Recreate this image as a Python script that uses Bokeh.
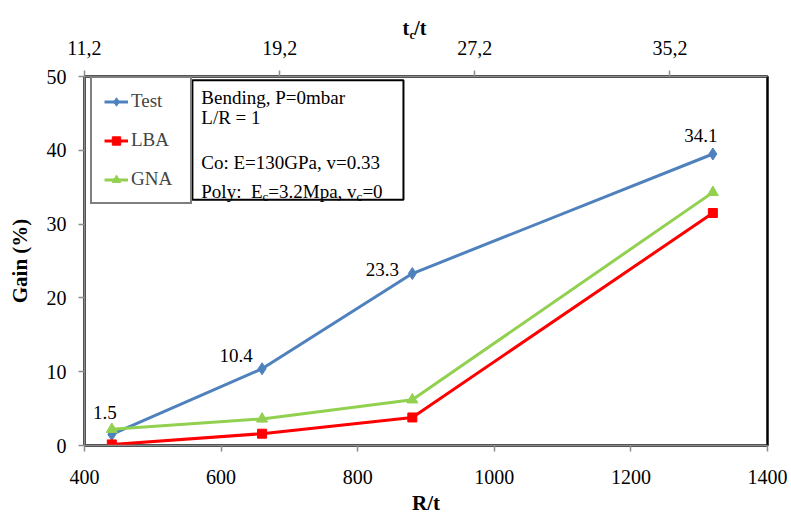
from bokeh.plotting import figure
from bokeh.models import (Range1d, LinearAxis, FixedTicker, CustomJSTickFormatter,
                          Legend, LegendItem, BoxAnnotation, Label, ColumnDataSource)
from bokeh.core.properties import value
from bokeh.embed import file_html
from bokeh.resources import INLINE

# ---- data ----
r_t = [440, 660, 880, 1320]
gain_test = [1.5, 10.4, 23.3, 39.5]
gain_lba = [0.15, 1.6, 3.8, 31.5]
gain_gna = [2.2, 3.6, 6.2, 34.3]
test_labels = ["1.5", "10.4", "23.3", "34.1"]
x_ticks = [400, 600, 800, 1000, 1200, 1400]
y_ticks = [0, 10, 20, 30, 40, 50]
top_ticks = [11.2, 19.2, 27.2, 35.2]
top_start, top_end = 11.2, 39.2
info_lines = ["Bending, P=0mbar", "L/R = 1", "Co: E=130GPa, v=0.33"]

# ---- styles ----
FONT = "Liberation Serif"
BLUE = "#4F81BD"
RED = "#FF0000"
GREEN = "#92D050"
label_dx = [-7, -26, -30, -12]
label_dy = [-22, -13, -4, -18]

p = figure(width=791, height=517, x_range=Range1d(400, 1400), y_range=Range1d(0, 50),
           output_backend="svg", toolbar_location=None,
           min_border_left=84, min_border_right=24, min_border_top=76, min_border_bottom=72)
p.xgrid.visible = False
p.ygrid.visible = False
p.outline_line_color = "black"
p.outline_line_width = 2.5
p.background_fill_color = "white"
p.border_fill_color = "white"

bottom_axis = p.below[0]
left_axis = p.left[0]

p.extra_x_ranges = {"top": Range1d(top_start, top_end)}
top_axis = LinearAxis(x_range_name="top", ticker=FixedTicker(ticks=top_ticks),
                      formatter=CustomJSTickFormatter(code="return tick.toFixed(1).replace('.', ',');"))
p.add_layout(top_axis, "above")

bottom_axis.ticker = FixedTicker(ticks=x_ticks)
left_axis.ticker = FixedTicker(ticks=y_ticks)
bottom_axis.axis_label = "R/t"
left_axis.axis_label = "Gain (%)"

for ax in [bottom_axis, left_axis, top_axis]:
    ax.axis_line_color = "#8c8c8c"
    ax.axis_line_width = 1.5
    ax.major_tick_line_color = "#8c8c8c"
    ax.major_tick_line_width = 1.5
    ax.major_tick_in = 0
    ax.major_tick_out = 6
    ax.minor_tick_line_color = None
    ax.major_label_text_font = FONT
    ax.major_label_text_font_size = "20px"
    ax.major_label_text_color = "black"
    ax.axis_label_text_font = FONT
    ax.axis_label_text_font_size = "21px"
    ax.axis_label_text_font_style = "bold"
    ax.axis_label_text_color = "black"

bottom_axis.major_label_standoff = 18
bottom_axis.axis_label_standoff = 4
left_axis.major_label_standoff = 12
left_axis.axis_label_standoff = 12
top_axis.major_label_standoff = 16

# ---- series ----
l_test = p.line(r_t, gain_test, line_color=BLUE, line_width=3)
s_test = p.scatter(r_t, gain_test, marker="diamond", size=12, fill_color=BLUE, line_color=BLUE)
l_lba = p.line(r_t, gain_lba, line_color=RED, line_width=3)
s_lba = p.scatter(r_t, gain_lba, marker="square", size=9, fill_color=RED, line_color=RED)
l_gna = p.line(r_t, gain_gna, line_color=GREEN, line_width=3)
s_gna = p.scatter(r_t, gain_gna, marker="triangle", size=11, fill_color=GREEN, line_color=GREEN)

src = ColumnDataSource(dict(x=r_t, y=gain_test, t=test_labels, dx=label_dx, dy=label_dy))
p.text(x="x", y="y", text="t", source=src, x_offset="dx", y_offset="dy",
       text_align="center", text_baseline="middle", text_font=value(FONT),
       text_font_size="19px", text_color="black")

# ---- legend ----
legend = Legend(items=[LegendItem(label="Test", renderers=[l_test, s_test]),
                       LegendItem(label="LBA", renderers=[l_lba, s_lba]),
                       LegendItem(label="GNA", renderers=[l_gna, s_gna])],
                location=(6, 241), orientation="vertical",
                border_line_color="black", border_line_width=2,
                background_fill_color="white", background_fill_alpha=1,
                label_text_font=FONT, label_text_font_size="19px",
                glyph_width=24, glyph_height=21, label_height=21, label_width=47,
                label_standoff=3, spacing=17, padding=12, margin=0)
p.add_layout(legend, "center")

# ---- info box ----
p.add_layout(BoxAnnotation(left=558, right=867, top=49.5, bottom=33.3,
                           fill_color="white", fill_alpha=1,
                           line_color="black", line_width=2, line_alpha=1))
info_y = [47.2, 44.4, 38.3]
for txt, yy in zip(info_lines, info_y):
    p.add_layout(Label(x=571, y=yy, text=txt, text_font=FONT, text_font_size="19px",
                       text_baseline="middle", text_color="black"))

poly_parts = [("Poly:", 0, False), ("E", 49.6, False), ("c", 61.2, True),
              ("=3.2Mpa, v", 67, False), ("c", 155.3, True), ("=0", 161.1, False)]
for txt, dx, sub in poly_parts:
    p.add_layout(Label(x=571, y=33.8 if sub else 34.35, x_offset=dx, text=txt,
                       text_font=FONT, text_font_size="13px" if sub else "19px",
                       text_baseline="alphabetic", text_color="black"))

# ---- top axis title t_c/t : two label rows in the "above" side panel ----
# row next to the axis: subscript "c"
p.add_layout(Label(x=325, y=3, x_units="screen", y_units="screen", text="c",
                   text_font=FONT, text_font_size="12px", text_font_style="bold",
                   text_baseline="alphabetic", text_color="black"), "above")
# outer row: "t" and "/t" with a gap for the subscript
p.add_layout(Label(x=318, y=-4, x_units="screen", y_units="screen", text="t\u00a0/t",
                   text_font=FONT, text_font_size="20px", text_font_style="bold",
                   text_baseline="alphabetic", text_color="black"), "above")

open("out.html", "w").write(file_html(p, INLINE))
